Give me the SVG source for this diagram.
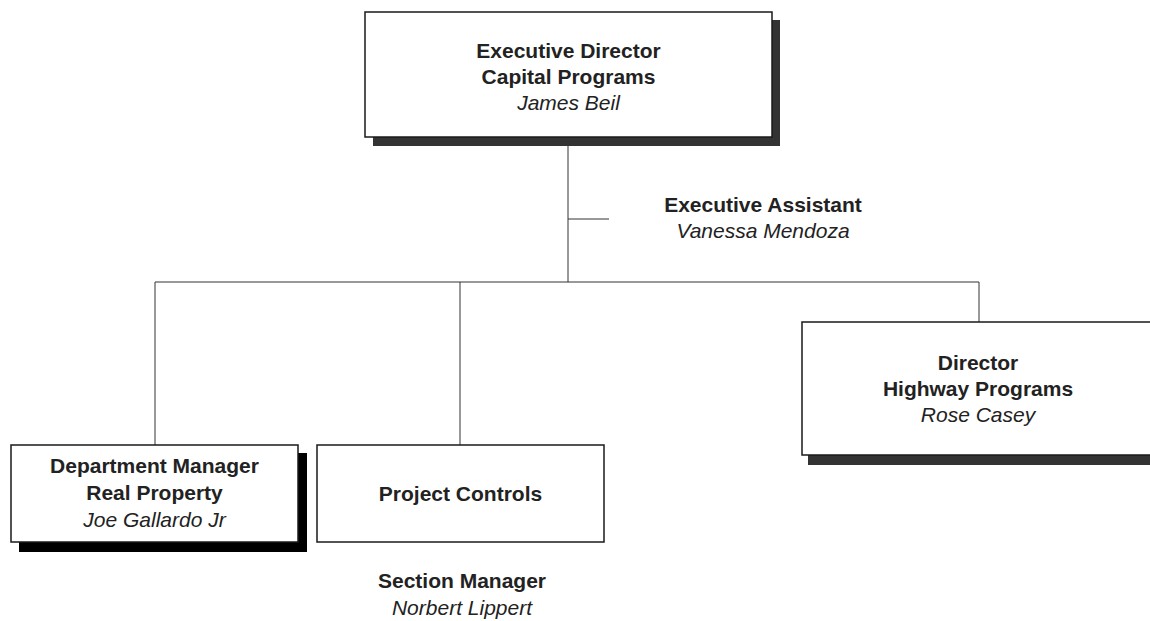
<svg xmlns="http://www.w3.org/2000/svg" width="1150" height="621" viewBox="0 0 1150 621">
  <style>
    .box { fill: #ffffff; stroke: #1a1a1a; stroke-width: 1.5; }
    .shadow { fill: #333333; }
    .shadow-dark { fill: #000000; }
    .link { fill: none; stroke: #333333; stroke-width: 1; }
    text { font-family: "Liberation Sans", Arial, sans-serif; font-size: 21px; fill: #222222; text-anchor: middle; }
    .title { font-weight: bold; }
    .name { font-style: italic; }
  </style>
  <rect width="1150" height="621" fill="#ffffff"/>

  <!-- reporting lines -->
  <g id="connectors">
    <path class="link" d="M568,137 V282"/>
    <path class="link" d="M568,219 H609"/>
    <path class="link" d="M155,282 H979"/>
    <path class="link" d="M155,282 V445"/>
    <path class="link" d="M460,282 V445"/>
    <path class="link" d="M979,282 V322"/>
  </g>

  <g id="executive-director">
    <rect class="shadow" x="373" y="20" width="407" height="126"/>
    <rect class="box" x="365" y="12" width="407" height="125"/>
    <text class="title" x="568.5" y="58">Executive Director</text>
    <text class="title" x="568.5" y="84">Capital Programs</text>
    <text class="name" x="568.5" y="110">James Beil</text>
  </g>

  <g id="executive-assistant">
    <text class="title" x="763" y="212">Executive Assistant</text>
    <text class="name" x="763" y="238">Vanessa Mendoza</text>
  </g>

  <g id="real-property">
    <rect class="shadow-dark" x="19" y="453" width="288" height="99"/>
    <rect class="box" x="11" y="445" width="287" height="97"/>
    <text class="title" x="154.5" y="473">Department Manager</text>
    <text class="title" x="154.5" y="500">Real Property</text>
    <text class="name" x="154.5" y="527">Joe Gallardo Jr</text>
  </g>

  <g id="project-controls">
    <rect class="box" x="317" y="445" width="287" height="97"/>
    <text class="title" x="460.5" y="501">Project Controls</text>
    <text class="title" x="462" y="588">Section Manager</text>
    <text class="name" x="462" y="615">Norbert Lippert</text>
  </g>

  <g id="highway-programs">
    <rect class="shadow" x="808" y="330" width="350" height="135"/>
    <rect class="box" x="802" y="322" width="352" height="133"/>
    <text class="title" x="978" y="370">Director</text>
    <text class="title" x="978" y="396">Highway Programs</text>
    <text class="name" x="978" y="422">Rose Casey</text>
  </g>
</svg>
